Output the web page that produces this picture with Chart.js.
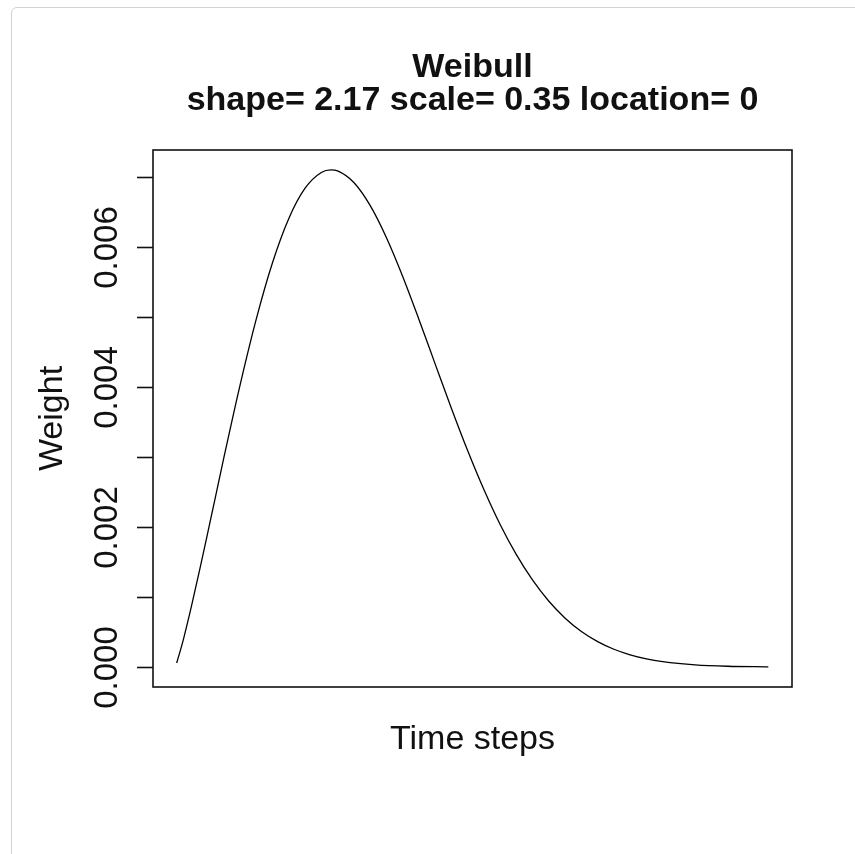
<!DOCTYPE html>
<html>
<head>
<meta charset="utf-8">
<script src="https://cdn.jsdelivr.net/npm/chart.js@4.4.0/dist/chart.umd.min.js"></script>
<style>
    html, body { margin: 0; padding: 0; background: #fff; }
    #wrap { position: relative; width: 855px; height: 854px; overflow: hidden; }
    #frame { position: absolute; left: 11px; top: 7px; width: 900px; height: 900px; border: 1px solid #d2d2d2; border-radius: 6px; }
    #my-chart { position: absolute; left: 0; top: 0; }
</style>
</head>
<body>
<div id="wrap">
    <div id="frame"></div>
    <canvas id="my-chart" width="855" height="854"></canvas>
</div>
<script>
// values
const timeSteps = [1, 5, 10, 15, 20, 25, 30, 40, 50, 60, 70, 80, 90, 96, 100, 110, 120, 130, 140, 150,
    160, 170, 180, 190, 200, 210, 220, 230, 240, 250, 260, 270, 280, 290, 300, 320, 340, 365];
const weights = [0.0000583, 0.000383, 0.000859, 0.001373, 0.001906, 0.002447, 0.002987, 0.004028, 0.004974, 0.005779,
    0.006408, 0.006839, 0.007064, 0.007101, 0.007086, 0.006921, 0.006594, 0.006136, 0.005583, 0.004969,
    0.004331, 0.003698, 0.003093, 0.002536, 0.002037, 0.001606, 0.001241, 0.000940, 0.000699, 0.000509,
    0.000364, 0.000255, 0.000176, 0.000118, 0.0000786, 0.0000325, 0.0000124, 0.0000034];

const yTicks = [0, 0.001, 0.002, 0.003, 0.004, 0.005, 0.006, 0.007];
const yTickLabels = ['0.000', '', '0.002', '', '0.004', '', '0.006', ''];
const titleLines = ['Weibull', 'shape= 2.17 scale= 0.35 location= 0'];
const xTitle = 'Time steps';
const yTitle = 'Weight';

document.addEventListener('DOMContentLoaded', () => {
    const ctx = document.getElementById('my-chart').getContext('2d');
    const font = '"Liberation Sans", Arial, sans-serif';

    // R style frame, ticks and labels
    const rPlot = {
        id: 'rPlot',
        afterDraw(chart) {
            const c = chart.ctx;
            const area = chart.chartArea;
            const ys = chart.scales.y;
            c.save();
            c.strokeStyle = '#111';
            c.lineWidth = 1.6;
            c.strokeRect(area.left, area.top, area.right - area.left, area.bottom - area.top);

            c.fillStyle = '#111';
            c.font = '33px ' + font;
            yTicks.forEach((v, i) => {
                const py = Math.round(ys.getPixelForValue(v)) + 0.5;
                c.beginPath();
                c.moveTo(area.left - 16, py);
                c.lineTo(area.left, py);
                c.stroke();
                if (yTickLabels[i]) {
                    c.save();
                    c.translate(117, py);
                    c.rotate(-Math.PI / 2);
                    c.textAlign = 'center';
                    c.textBaseline = 'alphabetic';
                    c.fillText(yTickLabels[i], 0, 0);
                    c.restore();
                }
            });

            // axis titles
            c.font = '34px ' + font;
            c.save();
            c.translate(62, (area.top + area.bottom) / 2);
            c.rotate(-Math.PI / 2);
            c.textAlign = 'center';
            c.fillText(yTitle, 0, 0);
            c.restore();

            const cx = (area.left + area.right) / 2;
            c.textAlign = 'center';
            c.fillText(xTitle, cx, 749);

            c.font = 'bold 34px ' + font;
            c.fillText(titleLines[0], cx, 77);
            c.fillText(titleLines[1], cx, 110);
            c.restore();
        }
    };

    const maxW = Math.max(...weights);
    const spanT = timeSteps[timeSteps.length - 1] - timeSteps[0];

    new Chart(ctx, {
        type: 'line',
        data: {
            datasets: [{
                data: timeSteps.map((t, i) => ({ x: t, y: weights[i] })),
                borderColor: '#000',
                borderWidth: 1.3,
                pointRadius: 0,
                fill: false,
                cubicInterpolationMode: 'monotone'
            }]
        },
        options: {
            responsive: false,
            animation: false,
            devicePixelRatio: 1,
            layout: { padding: { left: 153, right: 63, top: 150, bottom: 167 } },
            scales: {
                x: {
                    type: 'linear',
                    display: false,
                    min: timeSteps[0] - 0.04 * spanT,
                    max: timeSteps[timeSteps.length - 1] + 0.04 * spanT
                },
                y: {
                    display: false,
                    min: -0.04 * maxW,
                    max: maxW * 1.04
                }
            },
            plugins: {
                legend: { display: false },
                title: { display: false },
                tooltip: { enabled: false }
            }
        },
        plugins: [rPlot]
    });
});
</script>
</body>
</html>
